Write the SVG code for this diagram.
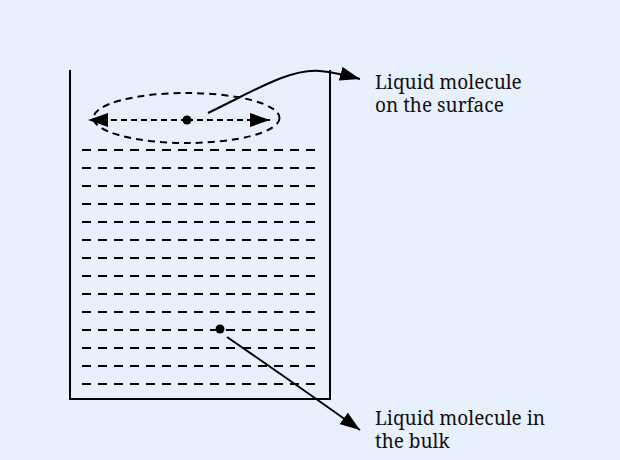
<svg xmlns="http://www.w3.org/2000/svg" width="620" height="460" viewBox="0 0 620 460">
  <style>
    .wall { fill: none; stroke: #000; stroke-width: 2; }
    .layer { stroke: #000; stroke-width: 2; stroke-dasharray: 9 7; }
    .ring { fill: none; stroke: #000; stroke-width: 2; stroke-dasharray: 7 5; }
    .dash { fill: none; stroke: #000; stroke-width: 2; stroke-dasharray: 6 4; }
    .conn { fill: none; stroke: #000; stroke-width: 2; }
    .dot { fill: #000; }
    .label { font-family: "Noto Serif", "DejaVu Serif", serif; font-size: 19px; fill: #111; }
  </style>
  <defs>
    <marker id="arrow" markerUnits="userSpaceOnUse" markerWidth="20" markerHeight="14" refX="20" refY="7" orient="auto">
      <path d="M0,0 L20,7 L0,14 z" fill="#000" stroke="none"/>
    </marker>
  </defs>
  <rect width="620" height="460" fill="#e8f0fd"/>

  <g id="container">
    <path class="wall" d="M70,70 L70,399 L330,399 L330,70"/>
  </g>

  <g id="bulk-layers">
    <line class="layer" x1="82" y1="150" x2="316" y2="150"/>
    <line class="layer" x1="82" y1="168" x2="316" y2="168"/>
    <line class="layer" x1="82" y1="186" x2="316" y2="186"/>
    <line class="layer" x1="82" y1="204" x2="316" y2="204"/>
    <line class="layer" x1="82" y1="222" x2="316" y2="222"/>
    <line class="layer" x1="82" y1="240" x2="316" y2="240"/>
    <line class="layer" x1="82" y1="258" x2="316" y2="258"/>
    <line class="layer" x1="82" y1="276" x2="316" y2="276"/>
    <line class="layer" x1="82" y1="294" x2="316" y2="294"/>
    <line class="layer" x1="82" y1="312" x2="316" y2="312"/>
    <line class="layer" x1="82" y1="330" x2="316" y2="330"/>
    <line class="layer" x1="82" y1="348" x2="316" y2="348"/>
    <line class="layer" x1="82" y1="366" x2="316" y2="366"/>
    <line class="layer" x1="82" y1="384" x2="316" y2="384"/>
  </g>

  <g id="surface-molecule">
    <ellipse class="ring" cx="186.5" cy="118" rx="93" ry="25"/>
    <line class="dash" x1="187" y1="120" x2="88" y2="120" marker-end="url(#arrow)"/>
    <line class="dash" x1="187" y1="120" x2="270" y2="120" marker-end="url(#arrow)"/>
    <circle class="dot" cx="187" cy="120" r="4.5"/>
  </g>

  <g id="bulk-molecule">
    <circle class="dot" cx="220" cy="329" r="4.5"/>
  </g>

  <g id="connectors">
    <path class="conn" d="M208,113 C252,92 290,68 320,71 C332,72 342,74 360,79" marker-end="url(#arrow)"/>
    <path class="conn" d="M227,337 C272,368 318,400 360,430" marker-end="url(#arrow)"/>
  </g>

  <g id="label-surface">
    <text class="label" x="375" y="89">Liquid molecule</text>
    <text class="label" x="375" y="112">on the surface</text>
  </g>
  <g id="label-bulk">
    <text class="label" x="375" y="425">Liquid molecule in</text>
    <text class="label" x="375" y="448">the bulk</text>
  </g>
</svg>
